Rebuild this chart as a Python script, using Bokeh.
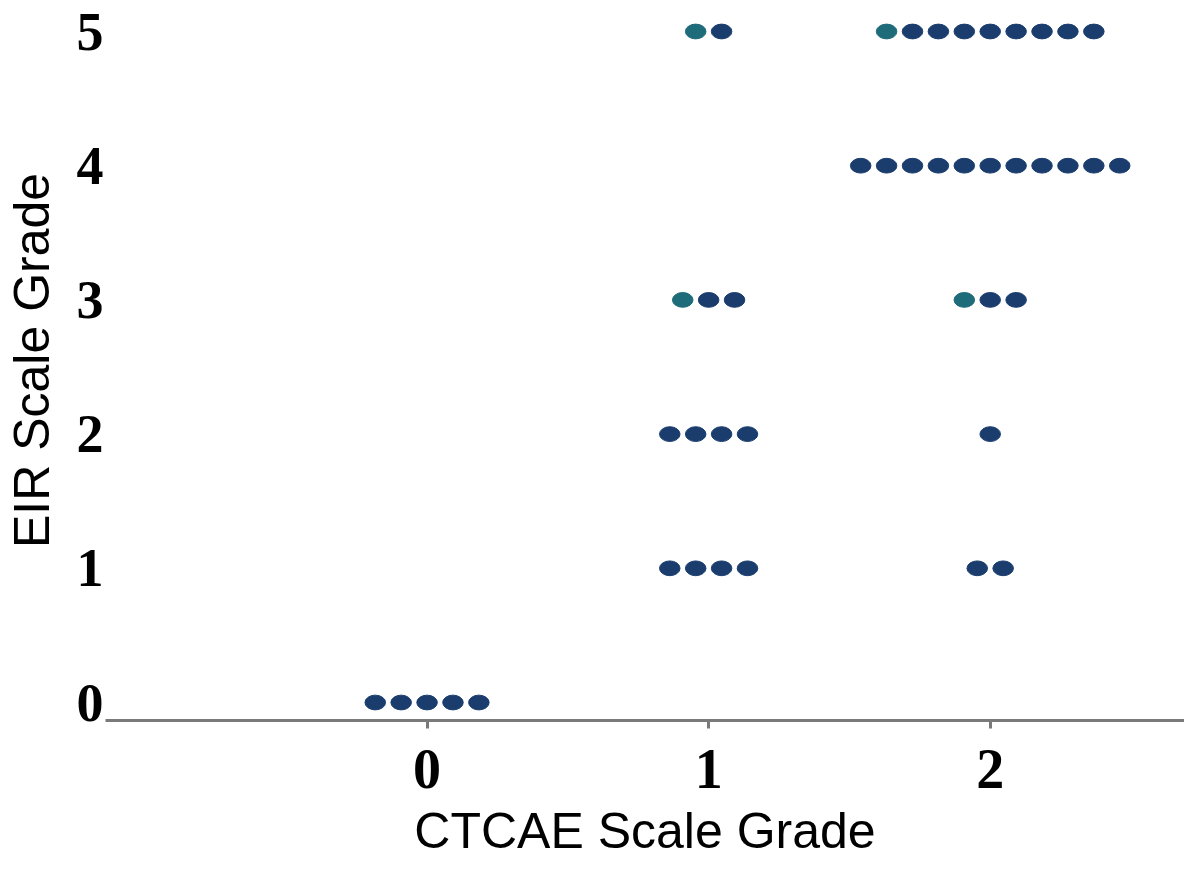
from bokeh.plotting import figure
from bokeh.models import Range1d, FixedTicker, ColumnDataSource
from bokeh.embed import file_html
from bokeh.resources import INLINE

# ---- data ----
ctcae_grade = [0, 1, 1, 1, 1, 2, 2, 2, 2, 2]
eir_grade = [0, 5, 3, 2, 1, 5, 4, 3, 2, 1]
patient_count = [5, 2, 3, 4, 4, 9, 11, 3, 1, 2]
teal_first = [0, 1, 1, 0, 0, 1, 0, 1, 0, 0]   # rows whose first dot is teal
x_ticks = [0, 1, 2]
y_ticks = [0, 1, 2, 3, 4, 5]
x_title = "CTCAE Scale Grade"
y_title = "EIR Scale Grade"

NAVY = "#1a3d6e"
TEAL = "#1e6b7a"
SPACING = 0.092

xs, ys, cols = [], [], []
for cx, cy, n, t in zip(ctcae_grade, eir_grade, patient_count, teal_first):
    for i in range(n):
        xs.append(cx + (i - (n - 1) / 2) * SPACING)
        ys.append(cy)
        cols.append(TEAL if (t and i == 0) else NAVY)
src = ColumnDataSource(dict(x=xs, y=ys, c=cols))

p = figure(width=1184, height=861, output_backend="svg", toolbar_location=None,
           x_range=Range1d(-1.142, 2.69), y_range=Range1d(-0.134, 5.231),
           min_border_left=100, min_border_right=0, min_border_top=0)
p.outline_line_color = None
p.grid.visible = False
p.background_fill_color = "white"

p.ellipse(x="x", y="y", width=0.073, height=0.11, fill_color="c", line_color="c", source=src)

xa = p.xaxis[0]
xa.ticker = FixedTicker(ticks=x_ticks)
xa.axis_line_color = "#7a7a7a"
xa.axis_line_width = 3
xa.major_tick_line_color = "#7a7a7a"
xa.major_tick_line_width = 3
xa.major_tick_out = 8
xa.major_tick_in = 0
xa.minor_tick_line_color = None
xa.major_label_text_font = "Liberation Serif"
xa.major_label_text_font_style = "bold"
xa.major_label_text_font_size = "56px"
xa.major_label_text_color = "black"
xa.major_label_standoff = 21
xa.axis_label = x_title
xa.axis_label_text_font = "Liberation Sans"
xa.axis_label_text_font_style = "normal"
xa.axis_label_text_font_size = "50px"
xa.axis_label_text_color = "black"
xa.axis_label_standoff = 12

ya = p.yaxis[0]
ya.ticker = FixedTicker(ticks=y_ticks)
ya.axis_line_color = None
ya.major_tick_line_color = None
ya.minor_tick_line_color = None
ya.major_tick_out = 0
ya.major_tick_in = 0
ya.major_label_text_font = "Liberation Serif"
ya.major_label_text_font_style = "bold"
ya.major_label_text_font_size = "54px"
ya.major_label_text_color = "black"
ya.major_label_standoff = 2
ya.axis_label = y_title
ya.axis_label_text_font = "Liberation Sans"
ya.axis_label_text_font_style = "normal"
ya.axis_label_text_font_size = "50px"
ya.axis_label_text_color = "black"
ya.axis_label_standoff = 14

open("out.html", "w").write(file_html(p, INLINE))
